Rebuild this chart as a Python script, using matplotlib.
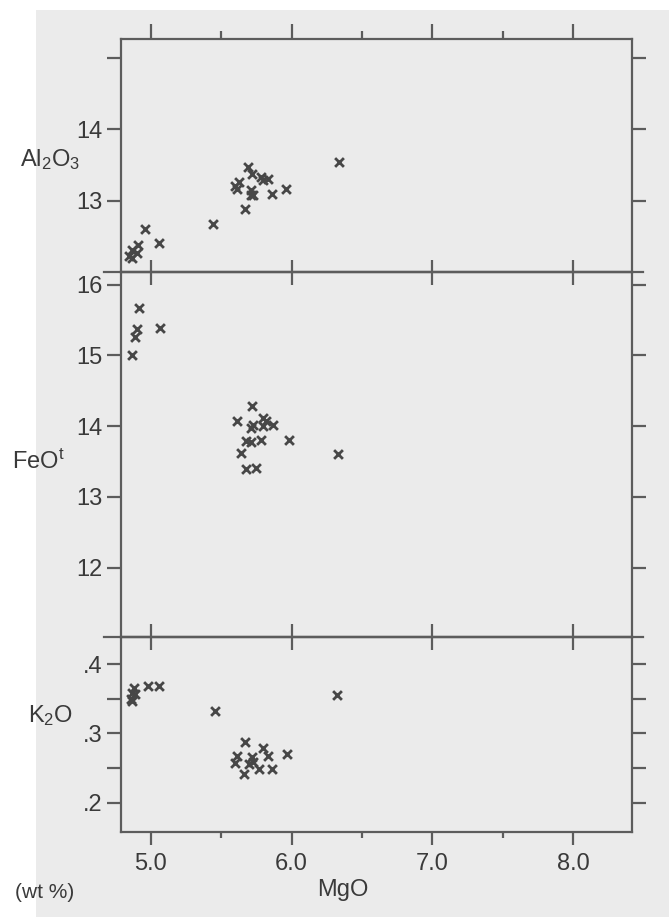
import matplotlib
matplotlib.use("Agg")
import matplotlib.pyplot as plt
from matplotlib.lines import Line2D
from matplotlib.patches import Rectangle

# ---------------- data ----------------
mgo_al = [6.34, 5.69, 5.72, 5.63, 5.60, 5.61, 5.78, 5.80, 5.83, 5.71, 5.73, 5.71,
          5.86, 5.96, 5.67, 5.44, 4.96, 5.06, 4.91, 4.87, 4.90, 4.87, 4.85]
al2o3 = [13.55, 13.48, 13.38, 13.27, 13.20, 13.17, 13.34, 13.29, 13.30, 13.15, 13.08, 13.08,
         13.09, 13.17, 12.88, 12.68, 12.60, 12.40, 12.38, 12.31, 12.26, 12.19, 12.23]

mgo_fe = [4.92, 4.90, 4.89, 5.07, 4.87, 5.72, 5.61, 5.80, 5.82, 5.73, 5.71, 5.80,
          5.87, 5.68, 5.71, 5.78, 5.98, 5.64, 5.68, 5.75, 6.33]
feo = [15.67, 15.37, 15.26, 15.39, 15.01, 14.29, 14.08, 14.12, 14.07, 14.02, 13.97, 14.00,
       14.01, 13.79, 13.78, 13.81, 13.81, 13.62, 13.40, 13.41, 13.61]

mgo_k = [6.32, 5.46, 5.06, 4.98, 4.88, 4.87, 4.89, 4.86, 4.87, 5.67, 5.61, 5.60,
         5.72, 5.73, 5.70, 5.80, 5.83, 5.77, 5.86, 5.97, 5.66]
k2o = [0.356, 0.332, 0.368, 0.368, 0.366, 0.359, 0.357, 0.350, 0.347, 0.287, 0.268, 0.257,
       0.266, 0.259, 0.256, 0.279, 0.268, 0.249, 0.249, 0.270, 0.242]

x_major = [5.0, 6.0, 7.0, 8.0]
x_minor = [5.5, 6.5, 7.5]
x_labels = ["5.0", "6.0", "7.0", "8.0"]
al_ticks = [13, 14, 15]
al_ticklabels = ["13", "14", ""]
fe_ticks = [12, 13, 14, 15, 16]
fe_ticklabels = ["12", "13", "14", "15", "16"]
k_ticks = [0.20, 0.25, 0.30, 0.35, 0.40]
k_ticklabels = [".2", "", ".3", "", ".4"]

# ---------------- layout ----------------
W, H = 669, 917
DPI = 100
plt.rcParams['font.family'] = ['Liberation Sans', 'DejaVu Sans']
plt.rcParams['mathtext.default'] = 'regular'

BG = '#ebebeb'
INK = '#5c5c5c'
TXT = '#3a3a3a'
MK = '#474747'

fig = plt.figure(figsize=(W / DPI, H / DPI), dpi=DPI, facecolor=BG)
fig.add_artist(Rectangle((0, 0), 36 / W, 1, transform=fig.transFigure,
                         facecolor='white', edgecolor='none', zorder=-5))
fig.add_artist(Rectangle((0, 1 - 10 / H), 1, 10 / H, transform=fig.transFigure,
                         facecolor='white', edgecolor='none', zorder=-5))


def rect(x0, y0, x1, y1):
    return [x0 / W, 1 - y1 / H, (x1 - x0) / W, (y1 - y0) / H]


XL, XR = 121, 632
ax_al = fig.add_axes(rect(XL, 39, XR, 272))
ax_fe = fig.add_axes(rect(XL, 272, XR, 637))
ax_k = fig.add_axes(rect(XL, 637, XR, 832))

xlim = (4.79, 8.416)
for ax in (ax_al, ax_fe, ax_k):
    ax.set_xlim(*xlim)
    ax.set_facecolor('none')
    for s in ax.spines.values():
        s.set_color(INK)
        s.set_linewidth(1.6)
    ax.tick_params(axis='y', which='major', direction='out', length=10, width=1.6,
                   color=INK, labelsize=17, labelcolor=TXT, pad=3,
                   left=True, right=True, labelleft=True, labelright=False)

ax_al.set_ylim(12.0, 15.27)
ax_fe.set_ylim(11.02, 16.18)
ax_k.set_ylim(0.158, 0.439)

ax_al.set_yticks(al_ticks, al_ticklabels)
ax_fe.set_yticks(fe_ticks, fe_ticklabels)
ax_k.set_yticks(k_ticks, k_ticklabels)

# x ticks
ax_al.set_xticks(x_major)
ax_al.set_xticks(x_minor, minor=True)
ax_al.tick_params(axis='x', which='major', top=False, bottom=True, labeltop=False,
                  labelbottom=False, direction='inout', length=18, width=1.6, color=INK)
ax_al.tick_params(axis='x', which='minor', top=True, bottom=False, direction='out',
                  length=6, width=1.6, color=INK)
top = ax_al.secondary_xaxis('top')
top.set_xticks(x_major, [])
top.tick_params(direction='out', length=11, width=1.6, color=INK)
top.spines['top'].set_visible(False)

ax_fe.set_xticks(x_major)
ax_fe.tick_params(axis='x', which='major', top=False, bottom=True, labelbottom=False,
                  direction='inout', length=19, width=1.6, color=INK)

ax_k.set_xticks(x_major, x_labels)
ax_k.set_xticks(x_minor, minor=True)
ax_k.tick_params(axis='x', which='major', top=False, bottom=True, direction='out',
                 length=9, width=1.6, color=INK, labelsize=17, labelcolor=TXT, pad=6)
ax_k.tick_params(axis='x', which='minor', top=False, bottom=True, direction='out',
                 length=4, width=1.6, color=INK)

mstyle = dict(marker='x', s=40, linewidths=2.0, color=MK, zorder=3, clip_on=False)
ax_al.scatter(mgo_al, al2o3, **mstyle)
ax_fe.scatter(mgo_fe, feo, **mstyle)
ax_k.scatter(mgo_k, k2o, **mstyle)

# divider lines extending past the frame
for yy in (272, 637):
    fig.add_artist(Line2D([104 / W, 643 / W], [1 - yy / H, 1 - yy / H],
                          transform=fig.transFigure, color=INK, linewidth=1.6))


def ftxt(x, y, s, size=17, **kw):
    fig.text(x / W, 1 - y / H, s, color=TXT, fontsize=size, **kw)


ftxt(20, 160, r'Al$_2$O$_3$', ha='left', va='center')
ftxt(12, 462, r'FeO$^t$', ha='left', va='center')
ftxt(28, 716, r'K$_2$O', ha='left', va='center')
ftxt(343, 890, 'MgO', ha='center', va='center')
ftxt(15, 892, '(wt %)', size=15, ha='left', va='center')

fig.savefig('out.png', dpi=DPI, facecolor=BG)
